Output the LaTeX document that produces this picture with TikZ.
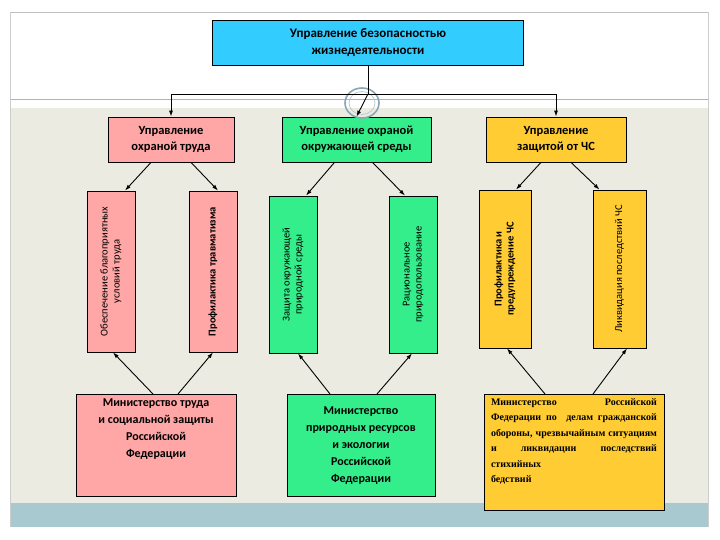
\documentclass[tikz,border=0pt]{standalone}
\usepackage{fontspec}
\setmainfont{Carlito}
\newfontfamily\serifbd{Liberation Serif}
\usetikzlibrary{calc,arrows.meta}
\definecolor{skyc}{HTML}{33CCFF}
\definecolor{pinkc}{HTML}{FFA6A6}
\definecolor{greenc}{HTML}{33EE8A}
\definecolor{yellowc}{HTML}{FFCC33}
\definecolor{beigec}{HTML}{ECEBE1}
\definecolor{bandc}{HTML}{A9C9D1}
\definecolor{ringc}{HTML}{8AA6B4}
\newcommand{\vtext}[2]{\rotatebox{90}{\parbox{#1}{\centering #2}}}
\tikzset{
  box/.style={draw=black, line width=0.8pt, align=center, inner sep=2pt},
  arr/.style={-{Latex[length=6pt,width=4pt]}, line width=0.9pt},
  vbox/.style={box, font=\fontsize{10.5}{12}\selectfont}
}
\begin{document}
\begin{tikzpicture}[x=1pt, y=-1pt]
  \useasboundingbox (0,0) rectangle (720,540);
  % background
  \fill[beigec] (10,108) rectangle (708,503);
  \fill[bandc] (10,503) rectangle (708,527);
  \draw[gray!50, line width=0.8pt] (10,12) -- (708,12);
  \draw[gray!60, line width=1pt] (10,100) -- (708,100);
  \draw[gray!40] (10,12) -- (10,527);
  \draw[gray!40] (708,12) -- (708,527);
  % top
  \node[box, fill=skyc, minimum width=311, minimum height=45,
        font=\fontsize{13}{17}\selectfont\bfseries] (bzh) at (368,42.5)
        {Управление безопасностью\\жизнедеятельности};
  % level 1
  \node[box, fill=pinkc, minimum width=126, minimum height=45,
        font=\fontsize{12.5}{16}\selectfont\bfseries] (trud) at (171,139.5)
        {Управление\\охраной труда};
  \node[box, fill=greenc, minimum width=149, minimum height=45,
        font=\fontsize{12.5}{16}\selectfont\bfseries] (sreda) at (356.5,139.5)
        {Управление охраной\\окружающей среды};
  \node[box, fill=yellowc, minimum width=140, minimum height=45,
        font=\fontsize{12.5}{16}\selectfont\bfseries] (chs) at (556,139.5)
        {Управление\\защитой от ЧС};
  % level 2
  \node[vbox, fill=pinkc, minimum width=48, minimum height=161] (p1) at (111,271.5)
        {\vtext{155pt}{Обеспечение благоприятных\\условий труда}};
  \node[vbox, fill=pinkc, minimum width=48, minimum height=161] (p2) at (213,271.5)
        {\vtext{155pt}{\bfseries Профилактика травматизма}};
  \node[vbox, fill=greenc, minimum width=48, minimum height=157] (g1) at (293,274.5)
        {\vtext{150pt}{Защита окружающей\\природной среды}};
  \node[vbox, fill=greenc, minimum width=48, minimum height=157] (g2) at (413,274.5)
        {\vtext{150pt}{Рациональное\\природопользование}};
  \node[vbox, fill=yellowc, minimum width=52, minimum height=158] (y1) at (505,269)
        {\vtext{150pt}{\bfseries Профилактика и\\предупреждение ЧС}};
  \node[vbox, fill=yellowc, minimum width=53, minimum height=158] (y2) at (619.5,269)
        {\vtext{152pt}{Ликвидация последствий ЧС}};
  % level 3
  \node[box, fill=pinkc, minimum width=160, minimum height=102, anchor=north,
        font=\fontsize{12}{17}\selectfont\bfseries, inner ysep=4pt] (mtrud) at (156,394)
        {Министерство труда\\и социальной защиты\\Российской\\Федерации\\[17pt]};
  \node[box, fill=greenc, minimum width=148, minimum height=102, anchor=north,
        font=\fontsize{12}{17}\selectfont\bfseries, inner ysep=4pt] (mpr) at (361,394)
        {Министерство\\природных ресурсов\\и экологии\\Российской\\Федерации};
  \node[box, fill=yellowc, minimum width=180, minimum height=102, anchor=north,
        font=\serifbd\fontsize{10}{15.5}\selectfont\bfseries, align=justify,
        text width=166pt, inner ysep=4pt] (mchs) at (574,394)
        {Министерство Российской Федерации по~~делам гражданской обороны, чрезвычайным ситуациям и ликвидации последствий стихийных\\бедствий\\[8pt]};
  % ring
  \draw[ringc, line width=1.6pt] (362,103) ellipse (17 and 15);
  \draw[ringc!60, line width=0.8pt] (362,103) ellipse (13 and 11.5);
  % connectors from top
  \coordinate (fork) at (bzh.south |- 0,94);
  \draw[line width=0.8pt] (bzh.south) -- (fork);
  \draw[line width=0.8pt] (trud.north |- fork) -- (chs.north |- fork);
  \draw[arr] (fork) -- (sreda.north);
  \draw[arr] (trud.north |- fork) -- (trud.north);
  \draw[arr] (chs.north |- fork) -- (chs.north);
  % down to functions
  \draw[arr] ($(trud.south)+(-20,0)$) -- ($(p1.north)+(14,0)$);
  \draw[arr] ($(trud.south)+(20,0)$) -- ($(p2.north)+(5,0)$);
  \draw[arr] ($(sreda.south)+(-22,0)$) -- ($(g1.north)+(13,0)$);
  \draw[arr] ($(sreda.south)+(16,0)$) -- ($(g2.north)+(-8,0)$);
  \draw[arr] ($(chs.south)+(-15,0)$) -- ($(y1.north)+(11,0)$);
  \draw[arr] ($(chs.south)+(15,0)$) -- ($(y2.north)+(-20,0)$);
  % up from ministries
  \draw[arr] ($(mtrud.north)+(-3,0)$) -- ($(p1.south)+(2,0)$);
  \draw[arr] ($(mtrud.north)+(22,0)$) -- ($(p2.south)+(0,0)$);
  \draw[arr] ($(mpr.north)+(-31,0)$) -- ($(g1.south)+(5,0)$);
  \draw[arr] ($(mpr.north)+(16,0)$) -- ($(g2.south)+(-1,0)$);
  \draw[arr] ($(mchs.north)+(-29,0)$) -- ($(y1.south)+(2,0)$);
  \draw[arr] ($(mchs.north)+(19,0)$) -- ($(y2.south)+(7.5,0)$);
\end{tikzpicture}
\end{document}
